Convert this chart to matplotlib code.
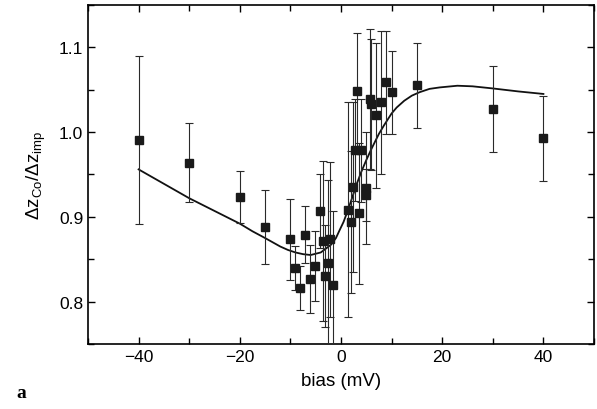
import matplotlib
matplotlib.use("Agg")
import matplotlib.pyplot as plt
import numpy as np
from matplotlib.ticker import MultipleLocator

plt.rcParams['font.family'] = ['Liberation Sans', 'DejaVu Sans']
plt.rcParams['mathtext.default'] = 'regular'

# measured points: bias (mV), ratio, error
bias = [-40, -30, -20, -15, -10.06, -9.07, -8.15, -7.09, -6.1, -5.05,
        -4.2, -3.6, -3.2, -2.5, -2.1, -1.6,
        1.4, 2.0, 2.3, 2.7, 3.2, 3.5, 3.9, 4.9, 5.0,
        5.78, 5.97, 6.9, 7.96, 8.95, 10.0, 15.0, 30.0, 40.0]
ratio = [0.991, 0.964, 0.9235, 0.888, 0.8734, 0.840, 0.8163, 0.879, 0.827, 0.842,
         0.907, 0.8715, 0.8305, 0.846, 0.8734, 0.820,
         0.9085, 0.894, 0.9353, 0.979, 1.0484, 0.904, 0.9786, 0.934, 0.926,
         1.039, 1.0326, 1.0196, 1.035, 1.0586, 1.0468, 1.055, 1.0275, 0.9928]
err = [0.099, 0.047, 0.031, 0.044, 0.048, 0.026, 0.026, 0.034, 0.040, 0.041,
       0.044, 0.094, 0.060, 0.097, 0.091, 0.087,
       0.127, 0.084, 0.100, 0.060, 0.068, 0.083, 0.061, 0.066, 0.031,
       0.083, 0.077, 0.086, 0.084, 0.061, 0.049, 0.050, 0.051, 0.050]

# model curve
fit_x = [-40, -35, -30, -25, -20, -17.5, -15, -12, -10.5, -9, -7.5, -6, -4,
         -2, -1, -0.3, 0.5, 1, 2, 3, 4, 5, 6, 7.5, 8.5, 10, 11, 12.5, 14,
         15.5, 17.5, 19.5, 23, 26, 30, 35, 40]
fit_y = [0.956, 0.939, 0.922, 0.907, 0.892, 0.883, 0.875, 0.865, 0.861, 0.858,
         0.856, 0.855, 0.858, 0.867, 0.875, 0.884, 0.894, 0.902, 0.919, 0.937,
         0.953, 0.967, 0.980, 0.998, 1.008, 1.022, 1.029, 1.037, 1.043, 1.047,
         1.051, 1.0527, 1.0547, 1.054, 1.0515, 1.048, 1.045]

fig = plt.figure(figsize=(5.97, 4.10), dpi=100)
ax = fig.add_axes([0.1474, 0.1585, 0.8476, 0.827])

ax.errorbar(bias, ratio, yerr=err, fmt='s', color='#1a1a1a', ms=5.5,
            ecolor='#2a2a2a', elinewidth=0.8, capsize=3, capthick=0.8, zorder=3)
ax.plot(fit_x, fit_y, color='#111111', lw=1.3, zorder=2)

ax.set_xlim(-50, 50)
ax.set_ylim(0.75, 1.15)
ax.xaxis.set_major_locator(MultipleLocator(20))
ax.xaxis.set_minor_locator(MultipleLocator(10))
ax.yaxis.set_major_locator(MultipleLocator(0.1))
ax.yaxis.set_minor_locator(MultipleLocator(0.05))
ax.set_yticks([0.8, 0.9, 1.0, 1.1])
ax.set_yticklabels(['0.8', '0.9', '1.0', '1.1'])
ax.tick_params(which='both', direction='in', top=True, right=True, labelsize=12.5, width=1)
ax.tick_params(which='major', length=5)
ax.tick_params(which='minor', length=4)
for s in ax.spines.values():
    s.set_linewidth(1.2)

ax.set_xlabel('bias (mV)', fontsize=13.5, labelpad=6)
ax.set_ylabel(r'$\Delta$z$_{Co}$/$\Delta$z$_{imp}$', fontsize=13.5, labelpad=8)

fig.text(0.028, 0.03, 'a', fontsize=14, fontweight='bold', family='Liberation Serif')

fig.savefig('out.png', dpi=100)
